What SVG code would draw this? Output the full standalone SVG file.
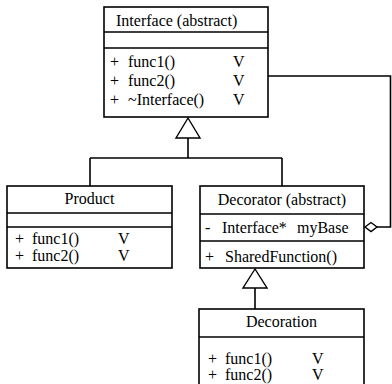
<svg xmlns="http://www.w3.org/2000/svg" width="392" height="384" viewBox="0 0 392 384">
<style>
.box{fill:#fff;stroke:#000;stroke-width:1.6}
.ln{stroke:#000;stroke-width:1.6;fill:none}
.hd{fill:#fff;stroke:#000;stroke-width:1.4}
text{font-family:"Liberation Serif","Times New Roman",serif;font-size:16px;fill:#000}
.c{text-anchor:middle}
</style>
<rect width="392" height="384" fill="#fff"/>
<g id="connectors">
<path class="ln" d="M188,138 V158 M90,158 H282 M90,158 V186 M282,158 V186"/>
<polygon class="hd" points="188,118 176,138 200,138"/>
<path class="ln" d="M255,288 V309"/>
<polygon class="hd" points="255,269 243,288 267,288"/>
<path class="ln" d="M268,76 H390.5 V227 H377"/>
<polygon class="hd" points="365,227 371,222.5 377,227 371,231.5"/>
</g>
<g id="interface">
<rect class="box" x="104" y="7" width="164" height="110"/>
<path class="ln" d="M104,32 H268 M104,48 H268"/>
<text x="116" y="26">Interface (abstract)</text>
<text x="110" y="67">+</text><text x="128" y="67">func1()</text><text x="233" y="67">V</text>
<text x="110" y="86">+</text><text x="128" y="86">func2()</text><text x="233" y="86">V</text>
<text x="110" y="105">+</text><text x="128" y="105">~Interface()</text><text x="233" y="105">V</text>
</g>
<g id="product">
<rect class="box" x="7" y="186" width="165" height="82"/>
<path class="ln" d="M7,213 H172 M7,227 H172"/>
<text class="c" x="89.5" y="204">Product</text>
<text x="15" y="244">+</text><text x="32" y="244">func1()</text><text x="118" y="244">V</text>
<text x="15" y="261">+</text><text x="32" y="261">func2()</text><text x="118" y="261">V</text>
</g>
<g id="decorator">
<rect class="box" x="200" y="186" width="164" height="82"/>
<path class="ln" d="M200,214 H364 M200,241 H364"/>
<text class="c" x="282" y="205">Decorator (abstract)</text>
<text x="205" y="233">-</text><text x="222" y="233">Interface*</text><text x="297" y="233">myBase</text>
<text x="205" y="262">+</text><text x="225" y="262">SharedFunction()</text>
</g>
<g id="decoration">
<rect class="box" x="199" y="309" width="165" height="90"/>
<path class="ln" d="M199,337 H364"/>
<text class="c" x="281.5" y="327">Decoration</text>
<text x="208" y="364">+</text><text x="225" y="364">func1()</text><text x="312" y="364">V</text>
<text x="208" y="380">+</text><text x="225" y="380">func2()</text><text x="312" y="380">V</text>
</g>
</svg>
